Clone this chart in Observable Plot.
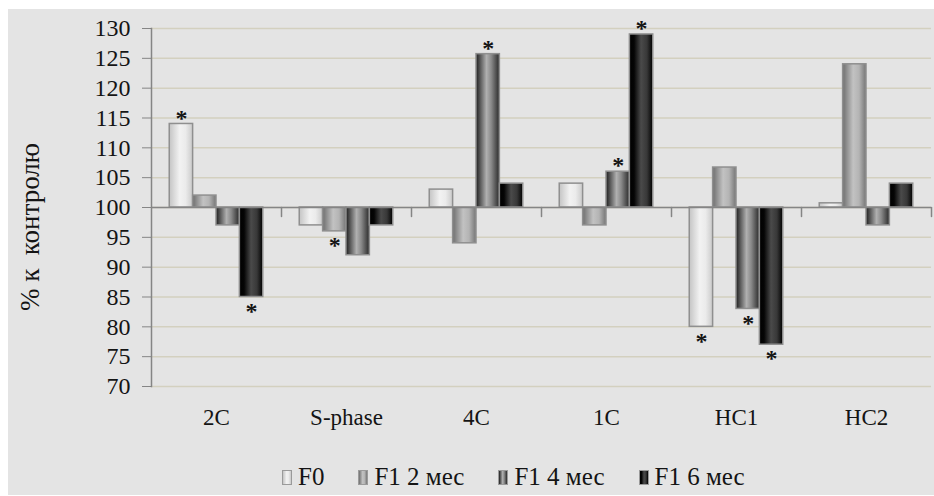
<!DOCTYPE html>
<html>
<head>
<meta charset="utf-8">
<script src="https://cdn.jsdelivr.net/npm/d3@7"></script>
<script src="https://cdn.jsdelivr.net/npm/@observablehq/plot@0.6"></script>
<style>
  html, body { margin: 0; padding: 0; background: #ffffff; }
  #page { position: relative; width: 934px; height: 496px; overflow: hidden; font-family: "Liberation Serif", "Times New Roman", serif; color: #141414; }
  #panel { position: absolute; left: 8px; top: 9px; width: 926px; height: 486px; background: #e4e4e4; }
  #chart { position: absolute; left: 0; top: 0; }
  #ytitle { position: absolute; left: 30px; top: 227px; transform: translate(-50%, -50%) rotate(-90deg); font-size: 27px; white-space: nowrap; }
  #legend { position: absolute; left: 282px; top: 463px; display: flex; align-items: center; font-size: 25px; white-space: nowrap; }
  .item { display: flex; align-items: center; margin-right: 34px; }
  .sw { width: 8px; height: 13px; border: 1px solid #9a9a9a; margin-right: 6px; }
</style>
</head>
<body>
<div id="page">
  <div id="panel"></div>
  <svg width="0" height="0" style="position:absolute">
    <defs id="gradients"></defs>
  </svg>
  <div id="chart"></div>
  <div id="ytitle">% к&nbsp; контролю</div>
  <div id="legend"></div>
</div>
<script>
// Categories (DNA content classes) and series (generations / ages)
const categories = ["2C", "S-phase", "4C", "1C", "HC1", "HC2"];
const seriesNames = ["F0", "F1 2 мес", "F1 4 мес", "F1 6 мес"];

// Values, % of control, one array per series (in category order)
const valuesF0   = [114, 97, 103, 104, 80, 100.7];
const valuesF1m2 = [102, 96, 94, 97, 106.7, 124];
const valuesF1m4 = [97, 92, 125.7, 106, 83, 97];
const valuesF1m6 = [85, 97, 104, 129, 77, 104];

// Significant differences from control: [category, series]
const significant = [
  ["2C", "F0"], ["2C", "F1 6 мес"],
  ["S-phase", "F1 2 мес"],
  ["4C", "F1 4 мес"],
  ["1C", "F1 4 мес"], ["1C", "F1 6 мес"],
  ["HC1", "F0"], ["HC1", "F1 4 мес"], ["HC1", "F1 6 мес"]
];

const yTicks = [70, 75, 80, 85, 90, 95, 100, 105, 110, 115, 120, 125, 130];
const baseline = 100;

// Horizontal "cylinder" gradients for each series: [offset, colour]
const gradientStops = [
  [[0, "#c4c4c4"], [0.45, "#f2f2f2"], [0.7, "#ebebeb"], [1, "#cacaca"]],
  [[0, "#6e6e6e"], [0.45, "#c2c2c2"], [0.7, "#b4b4b4"], [1, "#767676"]],
  [[0, "#1e1e1e"], [0.45, "#b0b0b0"], [0.65, "#8a8a8a"], [1, "#2a2a2a"]],
  [[0, "#000000"], [0.2, "#050505"], [0.5, "#4a4a4a"], [0.75, "#383838"], [1, "#000000"]]
];

const seriesValues = [valuesF0, valuesF1m2, valuesF1m4, valuesF1m6];
const rows = seriesNames.flatMap((s, si) =>
  categories.map((c, ci) => ({cat: c, series: s, si, value: seriesValues[si][ci]}))
);
const starRows = significant.map(([c, s]) => rows.find(r => r.cat === c && r.series === s));

// gradient definitions shared by the bars and the legend swatches
const defs = d3.select("#gradients");
gradientStops.forEach((stops, i) => {
  const g = defs.append("linearGradient").attr("id", `grad${i}`)
    .attr("x1", "0").attr("y1", "0").attr("x2", "1").attr("y2", "0");
  stops.forEach(([o, col]) => g.append("stop").attr("offset", o).attr("stop-color", col));
});

const axisColor = "#858585";
const gridColor = "#d3d0bf";

// small downward tick drawn at the right edge of every category
const tickShape = {draw(ctx, l) { ctx.moveTo(0, 0); ctx.lineTo(0, -l); }};

const chart = Plot.plot({
  width: 934,
  height: 440,
  marginLeft: 150,
  marginRight: 3,
  marginTop: 28,
  marginBottom: 54,
  style: {background: "transparent", fontFamily: "'Liberation Serif', 'Times New Roman', serif", fontSize: "23px", color: "#141414"},
  fx: {domain: categories, padding: 0, label: null},
  x: {domain: seriesNames, paddingInner: 0, paddingOuter: 0.78, axis: null, round: false},
  y: {domain: [70, 130], label: null},
  marks: [
    Plot.gridY(yTicks, {stroke: gridColor, strokeOpacity: 1, strokeWidth: 1.5}),
    Plot.axisY(yTicks, {tickSize: 9, tickPadding: 12, stroke: axisColor, fontSize: 24, label: null}),
    Plot.axisFx({anchor: "bottom", tickSize: 0, tickPadding: 22, label: null, fontSize: 23}),
    Plot.frame({anchor: "left", facetAnchor: "left", stroke: axisColor, strokeWidth: 1.5}),
    ...seriesNames.map((s, i) =>
      Plot.barY(rows.filter(r => r.series === s), {
        fx: "cat", x: "series", y1: baseline, y2: "value",
        fill: `url(#grad${i})`, stroke: "#8f8f8f", strokeWidth: 1.5
      })
    ),
    Plot.ruleY([baseline], {stroke: axisColor, strokeWidth: 1.5}),
    Plot.vector([baseline], {
      y: d => d, frameAnchor: "right", length: 9, rotate: 180, anchor: "start",
      shape: tickShape, stroke: axisColor, strokeWidth: 1.5
    }),
    // asterisks above bars that rise above 100 and below bars that fall under it
    Plot.text(starRows.filter(d => d.value >= baseline), {
      fx: "cat", x: "series", y: "value", text: () => "*",
      dy: -6, fontWeight: "bold", fontSize: 24, lineAnchor: "middle"
    }),
    Plot.text(starRows.filter(d => d.value < baseline), {
      fx: "cat", x: "series", y: "value", text: () => "*",
      dy: 14, fontWeight: "bold", fontSize: 24, lineAnchor: "middle"
    })
  ]
});
document.getElementById("chart").appendChild(chart);

// legend below the plot
const legend = d3.select("#legend");
seriesNames.forEach((s, i) => {
  const item = legend.append("div").attr("class", "item");
  const stops = gradientStops[i].map(([o, col]) => `${col} ${o * 100}%`).join(", ");
  item.append("div").attr("class", "sw").style("background", `linear-gradient(to right, ${stops})`);
  item.append("span").text(s);
});
</script>
</body>
</html>
